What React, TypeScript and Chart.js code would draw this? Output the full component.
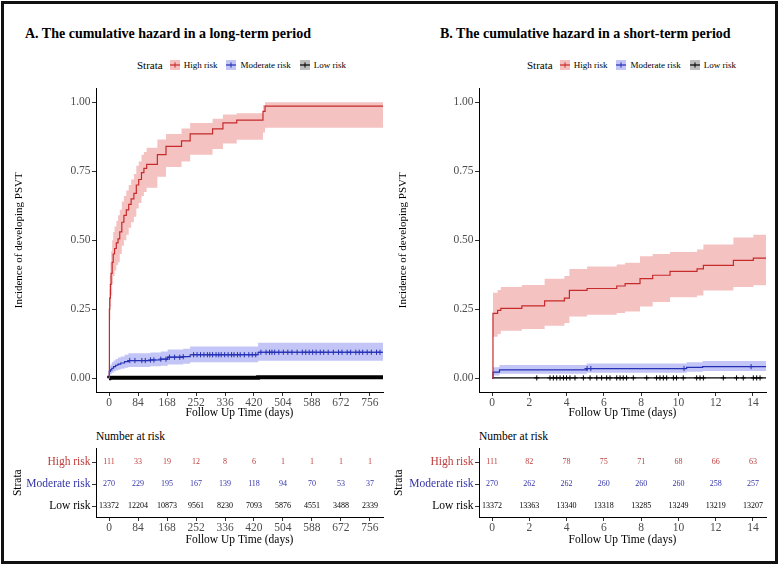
import React, { useEffect, useRef } from 'react';
import { Chart, registerables } from 'chart.js';

Chart.register(...registerables);

const FONT = "'Liberation Serif', 'Times New Roman', serif";

// ---------- Panel A (long-term) ----------
const XA_TICKS = [0, 84, 168, 252, 336, 420, 504, 588, 672, 756];
const Y_TICKS = [0, 0.25, 0.5, 0.75, 1];

const HA_T = [0, 1, 2, 4, 6, 9, 12, 16, 21, 26, 31, 37, 43, 50, 57, 64, 72, 79, 86, 94, 101, 109, 140, 165, 210, 235, 300, 330, 370, 446, 452, 794];
const HA_V = [0, 0.25, 0.29, 0.34, 0.38, 0.42, 0.45, 0.47, 0.49, 0.505, 0.53, 0.565, 0.59, 0.61, 0.63, 0.65, 0.67, 0.70, 0.72, 0.745, 0.76, 0.775, 0.81, 0.84, 0.86, 0.885, 0.903, 0.925, 0.935, 0.967, 0.986, 0.986];
const HA_UP = [0, 0.32, 0.37, 0.42, 0.46, 0.5, 0.53, 0.55, 0.57, 0.59, 0.61, 0.64, 0.66, 0.68, 0.70, 0.72, 0.74, 0.77, 0.785, 0.81, 0.82, 0.835, 0.865, 0.885, 0.905, 0.925, 0.94, 0.955, 0.96, 0.99, 1.0, 1.0];
const HA_LO = [0, 0.17, 0.21, 0.26, 0.30, 0.34, 0.37, 0.39, 0.41, 0.42, 0.45, 0.48, 0.50, 0.52, 0.545, 0.565, 0.585, 0.615, 0.635, 0.66, 0.675, 0.69, 0.73, 0.765, 0.785, 0.81, 0.83, 0.85, 0.864, 0.89, 0.907, 0.907];

const MA_T = [0, 0.5, 4, 8, 13, 19, 26, 34, 45, 56, 120, 150, 170, 215, 235, 432, 794];
const MA_V = [0, 0.025, 0.03, 0.036, 0.042, 0.047, 0.051, 0.055, 0.06, 0.064, 0.066, 0.069, 0.076, 0.078, 0.085, 0.094, 0.094];
const MA_UP = [0, 0.045, 0.05, 0.058, 0.064, 0.07, 0.075, 0.079, 0.085, 0.09, 0.093, 0.097, 0.104, 0.107, 0.115, 0.128, 0.128];
const MA_LO = [0, 0.012, 0.015, 0.02, 0.024, 0.028, 0.031, 0.034, 0.038, 0.041, 0.043, 0.045, 0.05, 0.052, 0.058, 0.063, 0.063];
const MA_CENSOR = [60, 75, 95, 105, 120, 130, 150, 165, 175, 190, 205, 215, 245, 255, 265, 275, 285, 292, 300, 310, 318, 325, 335, 345, 355, 362, 372, 380, 392, 405, 415, 425, 440, 455, 465, 472, 480, 492, 505, 518, 530, 545, 560, 570, 580, 590, 600, 612, 622, 635, 650, 665, 675, 690, 700, 715, 725, 735, 748, 760, 775, 785];

const LA_T = [0, 0.5, 432, 794];
const LA_V = [0, 0.002, 0.003, 0.003];

const HIGH_A = [111, 33, 19, 12, 8, 6, 1, 1, 1, 1];
const MOD_A = [270, 229, 195, 167, 139, 118, 94, 70, 53, 37];
const LOW_A = [13372, 12204, 10873, 9561, 8230, 7093, 5876, 4551, 3488, 2339];

// ---------- Panel B (short-term) ----------
const XB_TICKS = [0, 2, 4, 6, 8, 10, 12, 14];

const HB_T = [0, 0.05, 0.3, 0.47, 1.6, 2.82, 3.88, 4.15, 5.1, 6.69, 7.14, 7.94, 8.62, 9.55, 11.0, 11.34, 12.95, 14.02, 14.8];
const HB_V = [0, 0.235, 0.246, 0.253, 0.262, 0.28, 0.29, 0.318, 0.325, 0.334, 0.343, 0.361, 0.373, 0.387, 0.396, 0.409, 0.427, 0.435, 0.435];
const HB_UP = [0, 0.31, 0.32, 0.33, 0.338, 0.36, 0.37, 0.396, 0.405, 0.412, 0.418, 0.442, 0.45, 0.457, 0.466, 0.484, 0.51, 0.52, 0.52];
const HB_LO = [0, 0.15, 0.16, 0.172, 0.178, 0.19, 0.2, 0.224, 0.23, 0.236, 0.242, 0.26, 0.276, 0.293, 0.3, 0.318, 0.33, 0.337, 0.337];

const MB_T = [0, 0.05, 0.4, 5.08, 10.44, 11.3, 14.8];
const MB_V = [0, 0.022, 0.03, 0.035, 0.039, 0.042, 0.042];
const MB_UP = [0, 0.04, 0.048, 0.053, 0.058, 0.062, 0.062];
const MB_LO = [0, 0.01, 0.016, 0.02, 0.023, 0.026, 0.026];
const MB_CENSOR = [5.1, 5.3, 10.3, 13.9];

const LB_T = [0, 14.8];
const LB_V = [0.001, 0.001];
const LB_CENSOR = [2.4, 3.11, 3.29, 3.47, 3.65, 3.83, 4.0, 4.18, 4.45, 4.9, 5.26, 5.62, 5.88, 6.15, 6.33, 6.69, 6.87, 7.04, 7.22, 7.58, 8.3, 8.83, 9.01, 9.19, 9.37, 9.73, 9.9, 10.26, 10.98, 11.16, 11.34, 12.41, 13.12, 13.48, 14.02, 14.2, 14.38];

const HIGH_B = [111, 82, 78, 75, 71, 68, 66, 63];
const MOD_B = [270, 262, 262, 260, 260, 260, 258, 257];
const LOW_B = [13372, 13363, 13340, 13318, 13285, 13249, 13219, 13207];

const STRATA = ['High risk', 'Moderate risk', 'Low risk'];

// ---------- styles ----------
const RED = '#C62A2A';
const BLUE = '#2530B4';
const BLACK = '#000000';
const RED_FILL = 'rgba(225, 80, 80, 0.35)';
const BLUE_FILL = 'rgba(80, 90, 230, 0.35)';
const RED_TEXT = '#BE3C3C';
const BLUE_TEXT = '#3434A8';
const TICK_GREY = '#4D4D4D';

const pts = (t: number[], v: number[]) => t.map((x, i) => ({ x, y: v[i] }));
const stepAt = (t: number[], v: number[], x: number) => {
  let val = v[0];
  for (let i = 0; i < t.length; i++) if (t[i] <= x) val = v[i];
  return val;
};

function curveDatasets(
  red: [number[], number[], number[], number[]],
  blue: [number[], number[], number[], number[]],
  black: [number[], number[]],
  blackWidth: number,
  blueCensor: number[],
  blackCensor: number[]
) {
  const line = (data: any, color: string, width: number) => ({
    data, borderColor: color, borderWidth: width, stepped: 'before', pointRadius: 0, fill: false,
  });
  const censor = (days: number[], t: number[], v: number[], color: string) => ({
    data: days.map((d) => ({ x: d, y: stepAt(t, v, d) })),
    showLine: false, pointStyle: 'cross', pointRadius: 2.6, pointBorderWidth: 1,
    pointBorderColor: color, pointBackgroundColor: color, borderColor: color,
  });
  const band = (data: any, fill: any, bg: string) => ({
    data, stepped: 'before', borderWidth: 0, borderColor: 'transparent', pointRadius: 0, fill, backgroundColor: bg,
  });
  return [
    line(pts(red[0], red[1]), RED, 1.2),
    line(pts(blue[0], blue[1]), BLUE, 1.2),
    line(pts(black[0], black[1]), BLACK, blackWidth),
    censor(blueCensor, blue[0], blue[1], BLUE),
    censor(blackCensor, black[0], black[1], BLACK),
    band(pts(red[0], red[2]), '+1', RED_FILL),
    band(pts(red[0], red[3]), false, 'transparent'),
    band(pts(blue[0], blue[2]), '+1', BLUE_FILL),
    band(pts(blue[0], blue[3]), false, 'transparent'),
  ];
}

const gridOpts = { display: true, drawOnChartArea: false, drawTicks: true, tickLength: 4, color: '#333333', lineWidth: 1 };
const borderOpts = { display: true, color: '#000000', width: 1 };

function xScale(min: number, max: number, ticks: number[], height: number, titlePadBottom: number) {
  return {
    type: 'linear', min, max,
    afterBuildTicks: (s: any) => { s.ticks = ticks.map((v) => ({ value: v })); },
    afterFit: (s: any) => { s.height = height; },
    ticks: { color: TICK_GREY, font: { family: FONT, size: 11.5 }, padding: 0, maxRotation: 0, autoSkip: false, callback: (v: any) => String(v) },
    grid: gridOpts, border: borderOpts,
    title: { display: true, text: 'Follow Up Time (days)', color: '#000', font: { family: FONT, size: 11.5 }, padding: { top: 0, bottom: titlePadBottom } },
  };
}

function plotConfig(p: any) {
  return {
    type: 'line',
    data: { datasets: p.datasets },
    options: {
      animation: false, responsive: false, devicePixelRatio: 1,
      layout: { padding: { left: 0, top: 5, right: p.padRight, bottom: 0 } },
      plugins: { legend: { display: false }, tooltip: { enabled: false }, title: { display: false } },
      scales: {
        x: xScale(p.xMin, p.xMax, p.xTicks, 28, 0),
        y: {
          type: 'linear', min: -0.05, max: 1.05,
          afterBuildTicks: (s: any) => { s.ticks = Y_TICKS.map((v) => ({ value: v })); },
          afterFit: (s: any) => { s.width = p.yWidth; },
          ticks: { color: TICK_GREY, font: { family: FONT, size: 11.5 }, padding: 1.5, callback: (v: any) => Number(v).toFixed(2) },
          grid: gridOpts, border: borderOpts,
          title: { display: true, text: 'Incidence of developing PSVT', color: '#000', font: { family: FONT, size: 11 }, padding: { top: p.yTitlePad, bottom: 0 } },
        },
      },
    },
  };
}

const riskTextPlugin = {
  id: 'riskText',
  afterDatasetsDraw(chart: any) {
    const ctx = chart.ctx;
    chart.data.datasets.forEach((ds: any, i: number) => {
      const meta = chart.getDatasetMeta(i);
      ctx.save();
      ctx.font = `8px ${FONT}`;
      ctx.fillStyle = ds.textColor;
      ctx.textAlign = 'center';
      ctx.textBaseline = 'middle';
      meta.data.forEach((el: any, j: number) => ctx.fillText(String(ds.counts[j]), el.x, el.y));
      ctx.restore();
    });
  },
};

const ROW_Y: Record<string, number> = { 'High risk': 3, 'Moderate risk': 2, 'Low risk': 1 };
const ROW_COLOR: Record<number, string> = { 3: RED_TEXT, 2: BLUE_TEXT, 1: '#000000' };
const ROW_NAME: Record<number, string> = { 3: 'High risk', 2: 'Moderate risk', 1: 'Low risk' };

function tableConfig(p: any) {
  const rows = [
    { name: STRATA[0], counts: p.high, color: RED_TEXT },
    { name: STRATA[1], counts: p.mod, color: BLUE_TEXT },
    { name: STRATA[2], counts: p.low, color: '#000000' },
  ];
  return {
    type: 'scatter',
    data: {
      datasets: rows.map((r) => ({
        data: p.xTicks.map((t: number) => ({ x: t, y: ROW_Y[r.name] })),
        counts: r.counts, textColor: r.color, pointRadius: 0, showLine: false,
      })),
    },
    options: {
      animation: false, responsive: false, devicePixelRatio: 1,
      layout: { padding: { left: 0, top: 7, right: p.padRight, bottom: 0 } },
      plugins: { legend: { display: false }, tooltip: { enabled: false }, title: { display: false } },
      scales: {
        x: xScale(p.xMin, p.xMax, p.xTicks, 35, 5),
        y: {
          type: 'linear', min: 0.5, max: 3.62,
          afterBuildTicks: (s: any) => { s.ticks = [1, 2, 3].map((v) => ({ value: v })); },
          afterFit: (s: any) => { s.width = p.yWidth; },
          ticks: {
            font: { family: FONT, size: 11.5 }, padding: 1.5,
            color: (c: any) => (c.tick ? ROW_COLOR[c.tick.value] : '#000'),
            callback: (v: any) => ROW_NAME[v] || '',
          },
          grid: gridOpts, border: borderOpts,
          title: { display: true, text: 'Strata', color: '#000', font: { family: FONT, size: 11.5 }, padding: { top: p.yTitlePad, bottom: 0 } },
        },
      },
    },
    plugins: [riskTextPlugin],
  };
}

function ChartCanvas({ left, top, width, height, make }: any) {
  const ref = useRef<HTMLCanvasElement | null>(null);
  useEffect(() => {
    const chart = new Chart(ref.current as HTMLCanvasElement, make());
    return () => chart.destroy();
  }, []);
  return <canvas ref={ref} width={width} height={height} style={{ position: 'absolute', left, top, width, height }} />;
}

const LEGEND_ITEMS = [
  { label: STRATA[0], color: RED, fill: '#F4C0C0' },
  { label: STRATA[1], color: BLUE, fill: '#C2C5F5' },
  { label: STRATA[2], color: BLACK, fill: '#BDBDBD' },
];

function Legend({ left, top }: any) {
  return (
    <div style={{ position: 'absolute', left, top, height: 14, display: 'flex', alignItems: 'center', whiteSpace: 'nowrap' }}>
      <span style={{ fontSize: 11, marginRight: 7 }}>Strata</span>
      {LEGEND_ITEMS.map((it, i) => (
        <span key={i} style={{ display: 'flex', alignItems: 'center', marginRight: 9 }}>
          <svg width={10} height={10} style={{ marginRight: 4 }}>
            <rect x={0} y={0} width={10} height={10} fill={it.fill} />
            <line x1={0} y1={5} x2={10} y2={5} stroke={it.color} strokeWidth={1.2} />
            <line x1={5} y1={2.4} x2={5} y2={7.6} stroke={it.color} strokeWidth={1} />
          </svg>
          <span style={{ fontSize: 9 }}>{it.label}</span>
        </span>
      ))}
    </div>
  );
}

const titleStyle: any = { position: 'absolute', top: 24, fontSize: 14, fontWeight: 'bold', lineHeight: '20px', whiteSpace: 'nowrap' };
const narStyle: any = { position: 'absolute', top: 429, fontSize: 11.5, lineHeight: '14px', whiteSpace: 'nowrap' };

export default function App() {
  const makePlotA = () => plotConfig({
    xMin: -37.8, xMax: 793.8, xTicks: XA_TICKS, yWidth: 96, yTitlePad: 12.4, padRight: 7,
    datasets: curveDatasets([HA_T, HA_V, HA_UP, HA_LO], [MA_T, MA_V, MA_UP, MA_LO], [LA_T, LA_V], 4, MA_CENSOR, []),
  });
  const makePlotB = () => plotConfig({
    xMin: -0.7, xMax: 14.7, xTicks: XB_TICKS, yWidth: 89, yTitlePad: 6.4, padRight: 14,
    datasets: curveDatasets([HB_T, HB_V, HB_UP, HB_LO], [MB_T, MB_V, MB_UP, MB_LO], [LB_T, LB_V], 1.2, MB_CENSOR, LB_CENSOR),
  });
  const makeTableA = () => tableConfig({ xMin: -37.8, xMax: 793.8, xTicks: XA_TICKS, yWidth: 96, yTitlePad: 11, padRight: 7, high: HIGH_A, mod: MOD_A, low: LOW_A });
  const makeTableB = () => tableConfig({ xMin: -0.7, xMax: 14.7, xTicks: XB_TICKS, yWidth: 89, yTitlePad: 2, padRight: 14, high: HIGH_B, mod: MOD_B, low: LOW_B });

  return (
    <div style={{ position: 'fixed', left: 0, top: 0, width: 780, height: 566, background: '#fff', fontFamily: FONT, color: '#000', overflow: 'hidden' }}>
      <div style={{ position: 'absolute', left: 1, top: 1, width: 771, height: 557, border: '3px solid #111' }} />
      <div style={{ ...titleStyle, left: 25 }}>A. The cumulative hazard in a long-term period</div>
      <div style={{ ...titleStyle, left: 440 }}>B. The cumulative hazard in a short-term period</div>
      <Legend left={137} top={58} />
      <Legend left={527} top={58} />
      <ChartCanvas left={0} top={80} width={390} height={340} make={makePlotA} />
      <ChartCanvas left={390} top={80} width={390} height={340} make={makePlotB} />
      <div style={{ ...narStyle, left: 96 }}>Number at risk</div>
      <div style={{ ...narStyle, left: 479 }}>Number at risk</div>
      <ChartCanvas left={0} top={440} width={390} height={112} make={makeTableA} />
      <ChartCanvas left={390} top={440} width={390} height={112} make={makeTableB} />
    </div>
  );
}
